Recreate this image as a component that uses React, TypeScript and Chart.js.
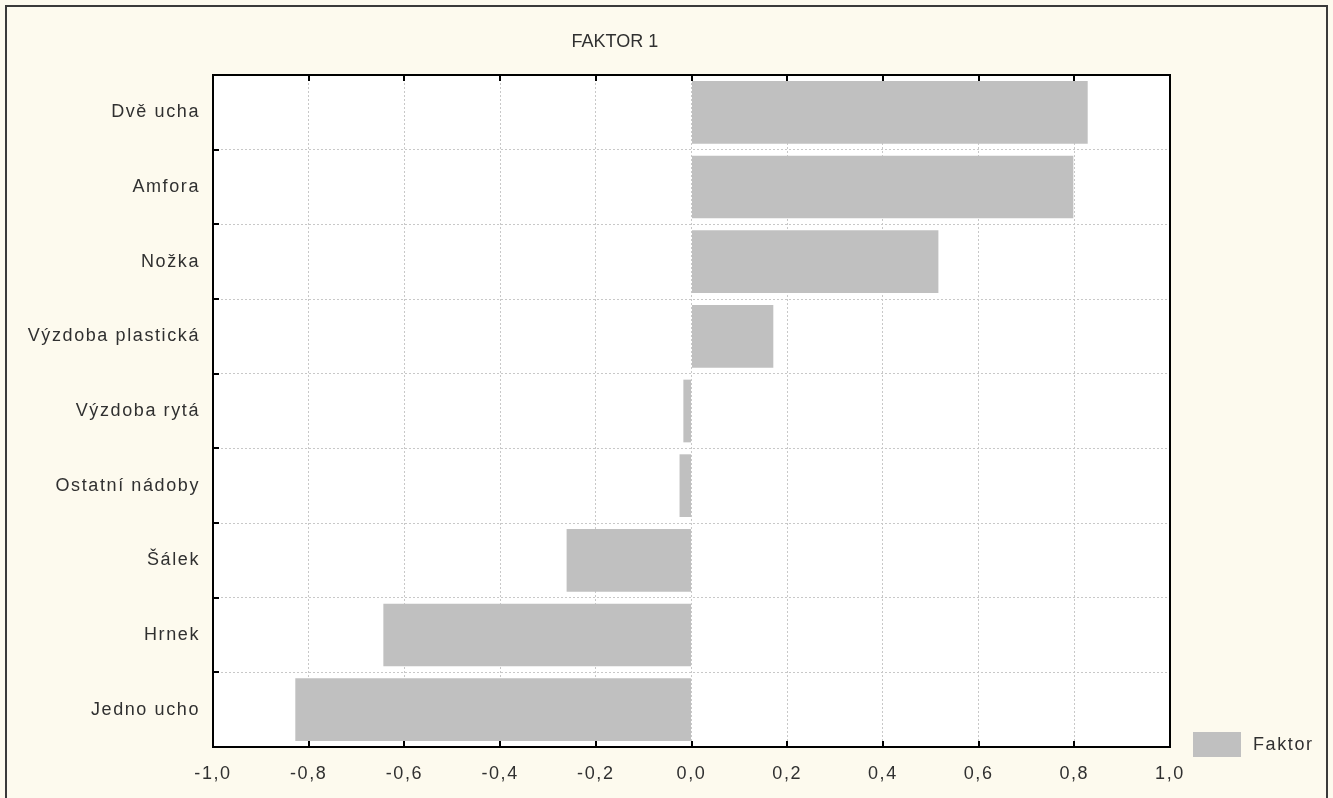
import React, { useEffect, useRef } from 'react';
import { Chart, registerables } from 'chart.js';

Chart.register(...registerables);

const TITLE = 'FAKTOR 1';
const categories = [
  'Dvě ucha',
  'Amfora',
  'Nožka',
  'Výzdoba plastická',
  'Výzdoba rytá',
  'Ostatní nádoby',
  'Šálek',
  'Hrnek',
  'Jedno ucho',
];
const seriesLabel = 'Faktor';
const faktorValues = [0.828, 0.798, 0.516, 0.171, -0.017, -0.025, -0.261, -0.644, -0.828];
const xTicks = [-1.0, -0.8, -0.6, -0.4, -0.2, 0.0, 0.2, 0.4, 0.6, 0.8, 1.0];

const BG = '#fdfaee';
const BAR = '#c0c0c0';
const TEXT = '#303030';
const FONT = '"Liberation Sans", Arial, sans-serif';
const SPACING = '1.6px';

const decorPlugin = {
  id: 'decor',
  beforeDraw(chart: any) {
    const { ctx, width, height, chartArea } = chart;
    ctx.save();
    ctx.fillStyle = BG;
    ctx.fillRect(0, 0, width, height);
    ctx.strokeStyle = '#3a3a3a';
    ctx.lineWidth = 2;
    ctx.strokeRect(6, 6, width - 12, height + 10);
    ctx.fillStyle = '#ffffff';
    ctx.fillRect(chartArea.left, chartArea.top, chartArea.right - chartArea.left, chartArea.bottom - chartArea.top);
    ctx.restore();
    (ctx as any).letterSpacing = SPACING;
  },
  afterDraw(chart: any) {
    const { ctx, chartArea } = chart;
    const xs = chart.scales.x;
    const ys = chart.scales.y;
    ctx.save();
    ctx.strokeStyle = '#000';
    ctx.lineWidth = 2;
    ctx.strokeRect(chartArea.left, chartArea.top, chartArea.right - chartArea.left, chartArea.bottom - chartArea.top);
    ctx.beginPath();
    xs.ticks.forEach((t: any, i: number) => {
      const px = Math.round(xs.getPixelForTick(i));
      ctx.moveTo(px, chartArea.top);
      ctx.lineTo(px, chartArea.top + 6);
      ctx.moveTo(px, chartArea.bottom);
      ctx.lineTo(px, chartArea.bottom - 6);
    });
    const n = ys.ticks.length;
    for (let i = 1; i < n; i++) {
      const py = Math.round((ys.getPixelForTick(i - 1) + ys.getPixelForTick(i)) / 2);
      ctx.moveTo(chartArea.left, py);
      ctx.lineTo(chartArea.left + 6, py);
    }
    ctx.stroke();

    // title
    (ctx as any).letterSpacing = '0px';
    ctx.fillStyle = TEXT;
    ctx.font = `18px ${FONT}`;
    ctx.textAlign = 'center';
    ctx.textBaseline = 'middle';
    ctx.fillText(TITLE, chartArea.left + (chartArea.right - chartArea.left) * 0.42, 42);

    // legend
    const ds = chart.data.datasets[0];
    const lx = chartArea.right + 23;
    const ly = chartArea.bottom - 15;
    ctx.fillStyle = ds.backgroundColor;
    ctx.fillRect(lx, ly, 48, 25);
    (ctx as any).letterSpacing = SPACING;
    ctx.fillStyle = TEXT;
    ctx.textAlign = 'left';
    ctx.fillText(ds.label, lx + 60, ly + 13);
    ctx.restore();
  },
};

export default function App() {
  const ref = useRef<HTMLCanvasElement>(null);
  useEffect(() => {
    if (!ref.current) return;
    const chart = new Chart(ref.current, {
      type: 'bar',
      data: {
        labels: categories,
        datasets: [
          {
            label: seriesLabel,
            data: faktorValues,
            backgroundColor: BAR,
            borderWidth: 0,
            categoryPercentage: 1,
            barPercentage: 0.84,
          },
        ],
      },
      options: {
        indexAxis: 'y',
        animation: false,
        responsive: false,
        devicePixelRatio: 1,
        layout: { padding: { top: 75, right: 163, bottom: 0, left: 0 } },
        plugins: {
          legend: { display: false },
          title: { display: false },
          tooltip: { enabled: false },
        },
        scales: {
          x: {
            type: 'linear',
            min: -1,
            max: 1,
            afterBuildTicks: (scale: any) => {
              scale.ticks = xTicks.map((v) => ({ value: v }));
            },
            afterFit: (scale: any) => {
              scale.height = 51;
            },
            ticks: {
              color: TEXT,
              font: { family: FONT, size: 18 },
              padding: 16,
              maxRotation: 0,
              autoSkip: false,
              callback: (v: any) => Number(v).toFixed(1).replace('.', ','),
            },
            grid: { color: '#c8c8c8', drawTicks: false, lineWidth: 1 },
            border: { display: false, dash: [2, 2] },
          },
          y: {
            type: 'category',
            afterFit: (scale: any) => {
              scale.width = 213;
            },
            ticks: {
              color: TEXT,
              font: { family: FONT, size: 18 },
              padding: 13,
              autoSkip: false,
            },
            grid: { color: '#c8c8c8', drawTicks: false, lineWidth: 1, offset: true },
            border: { display: false, dash: [2, 2] },
          },
        },
      },
      plugins: [decorPlugin],
    });
    return () => chart.destroy();
  }, []);
  return (
    <div style={{ position: 'absolute', left: 0, top: 0, width: 1333, height: 798 }}>
      <canvas ref={ref} width={1333} height={798} style={{ display: 'block' }} />
    </div>
  );
}
